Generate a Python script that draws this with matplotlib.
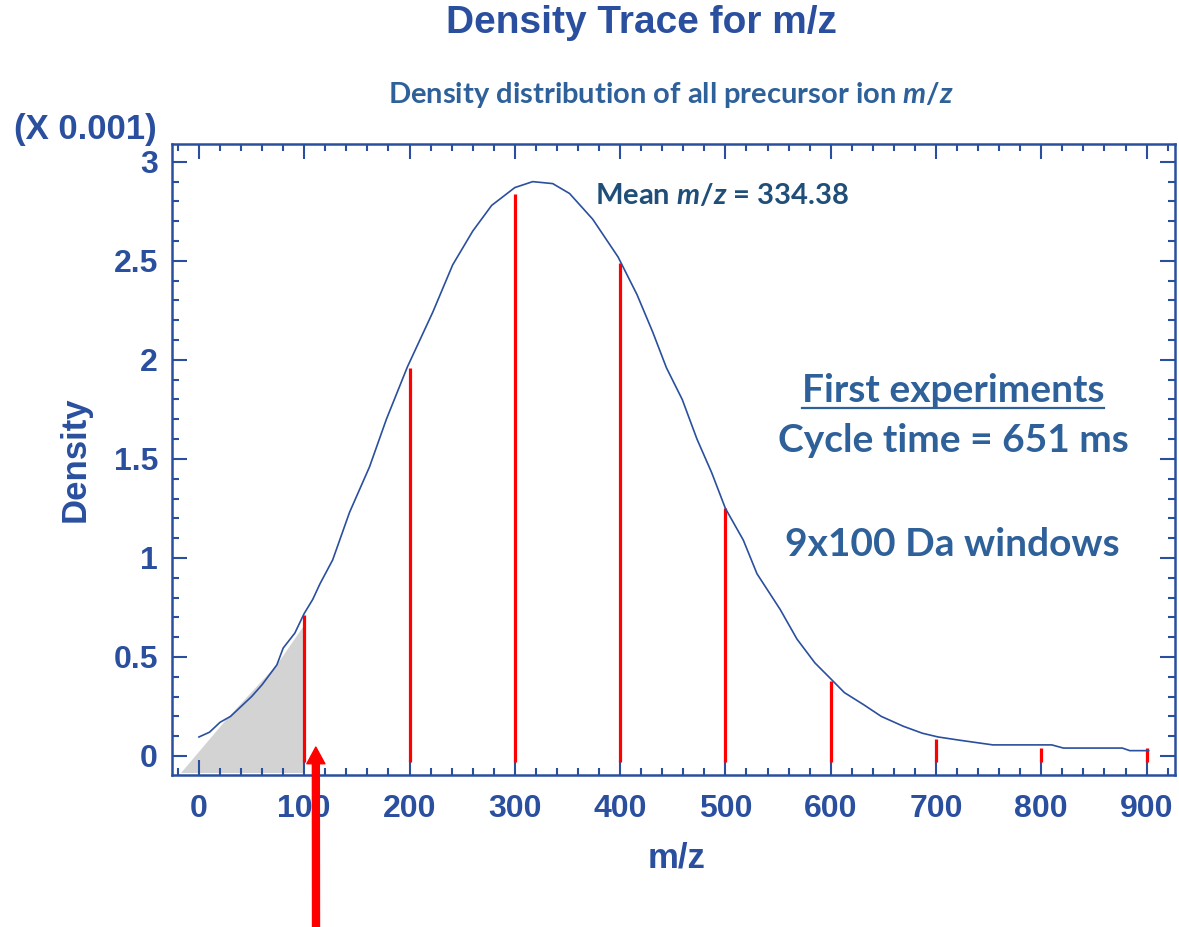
import matplotlib
matplotlib.use("Agg")
import matplotlib.pyplot as plt
from matplotlib.lines import Line2D
from matplotlib.ticker import MultipleLocator

# density trace (units of 0.001)
mz_curve = [0, 10, 20, 30, 40, 50, 60, 74, 80, 91, 100, 108, 115, 127, 143, 162,
            178, 198, 222, 241, 260, 278, 300, 317, 336, 352, 374, 398, 416, 431,
            444, 459, 473, 487, 500, 517, 530, 552, 568, 585, 600, 613, 631, 648,
            669, 687, 702, 722, 754, 810, 821, 877, 884, 902]
density_curve = [0.096, 0.12, 0.17, 0.20, 0.25, 0.30, 0.36, 0.46, 0.545, 0.62, 0.72,
                 0.79, 0.87, 0.99, 1.23, 1.46, 1.70, 1.965, 2.24, 2.48, 2.65, 2.78,
                 2.87, 2.90, 2.89, 2.84, 2.71, 2.52, 2.33, 2.14, 1.96, 1.80, 1.60,
                 1.43, 1.25, 1.09, 0.92, 0.74, 0.59, 0.47, 0.39, 0.32, 0.26, 0.20,
                 0.15, 0.115, 0.096, 0.08, 0.056, 0.056, 0.04, 0.04, 0.027, 0.027]

# red window markers
window_mz = [100, 200, 300, 400, 500, 600, 700, 800, 900]
window_height = [0.71, 1.96, 2.84, 2.49, 1.25, 0.38, 0.086, 0.04, 0.04]

# grey shaded area under the first window
shade_x = [-17, 27, 74, 100, 100]
shade_y = [-0.086, 0.19, 0.46, 0.66, -0.086]

y_ticks = [0, 0.5, 1, 1.5, 2, 2.5, 3]
y_ticklabels = ["0", "0.5", "1", "1.5", "2", "2.5", "3"]

BLUE = "#2a4f9e"
TEXT_BLUE = "#2e6099"
DARK_BLUE = "#1f4e79"
ARIAL = "Liberation Sans"
CALIBRI = "Lato"

plt.rcParams["mathtext.fontset"] = "custom"
plt.rcParams["mathtext.it"] = "Lato:italic:bold"
plt.rcParams["mathtext.rm"] = "Lato:bold"

fig = plt.figure(figsize=(11.79, 9.27), dpi=100)
ax = fig.add_axes([172 / 1179, 1 - 775 / 927, 1003 / 1179, 631 / 927])

ax.fill(shade_x, shade_y, color="#d3d3d3", lw=0, zorder=1)
ax.vlines(window_mz, -0.03, window_height, color="red", lw=2.3, zorder=2)
ax.plot(mz_curve, density_curve, color=BLUE, lw=1.2, zorder=3)

ax.set_xlim(-25.6, 927)
ax.set_ylim(-0.096, 3.09)
ax.xaxis.set_major_locator(MultipleLocator(100))
ax.xaxis.set_minor_locator(MultipleLocator(20))
ax.yaxis.set_minor_locator(MultipleLocator(0.1))
ax.set_yticks(y_ticks)
ax.set_yticklabels(y_ticklabels)

for s in ax.spines.values():
    s.set_color(BLUE)
    s.set_linewidth(1.8)
ax.tick_params(which="both", direction="in", top=True, right=True, color=BLUE,
               width=1.5, labelcolor=BLUE)
ax.tick_params(which="major", length=11)
ax.tick_params(which="minor", length=5)
ax.tick_params(axis="y", which="major", pad=10)
ax.tick_params(axis="x", which="major", pad=14)
for lab in ax.get_xticklabels() + ax.get_yticklabels():
    lab.set_fontfamily(ARIAL)
    lab.set_fontweight("bold")
    lab.set_fontsize(23)

ax.set_xlabel("m/z", fontfamily=ARIAL, fontweight="bold", fontsize=25, color=BLUE)
ax.set_ylabel("Density", fontfamily=ARIAL, fontweight="bold", fontsize=25, color=BLUE)
ax.xaxis.set_label_coords(0.503, -0.105)
ax.yaxis.set_label_coords(-0.08, 0.5)

fig.text(157 / 1179, 1 - 130 / 927, "(X 0.001)", ha="right", va="center",
         fontfamily=ARIAL, fontweight="bold", fontsize=25, color=BLUE)
fig.text(641 / 1179, 1 - 23 / 927, "Density Trace for m/z", ha="center", va="center",
         fontfamily=ARIAL, fontweight="bold", fontsize=28, color=BLUE)
fig.text(671 / 1179, 1 - 95 / 927,
         "Density distribution of all precursor ion $m/z$",
         ha="center", va="center", fontfamily=CALIBRI, fontweight="bold",
         fontsize=21, color=TEXT_BLUE)

fig.text(595 / 1179, 1 - 196 / 927, "Mean $m/z$ = 334.38", ha="left", va="center",
         fontfamily=CALIBRI, fontweight="bold", fontsize=21, color=DARK_BLUE)

first = fig.text(953 / 1179, 1 - 390 / 927, "First experiments", ha="center",
                 va="center", fontfamily=CALIBRI, fontweight="bold", fontsize=28,
                 color=TEXT_BLUE)
fig.text(953 / 1179, 1 - 441 / 927, "Cycle time = 651 ms", ha="center", va="center",
         fontfamily=CALIBRI, fontweight="bold", fontsize=28, color=TEXT_BLUE)
fig.text(952 / 1179, 1 - 545 / 927, "9x100 Da windows", ha="center", va="center",
         fontfamily=CALIBRI, fontweight="bold", fontsize=28, color=TEXT_BLUE)

# underline under "First experiments"
fig.canvas.draw()
bb = first.get_window_extent()
fig.add_artist(Line2D([bb.x0, bb.x1], [927 - 408, 927 - 408], transform=None,
                      color=TEXT_BLUE, lw=1.6))

# big red arrow pointing at the first window
ax.annotate("", xy=(111, 0.045), xytext=(316, 0), textcoords="figure pixels",
            arrowprops=dict(width=5, headwidth=13, headlength=12, color="red",
                            shrink=0), annotation_clip=False)

fig.savefig("out.png", dpi=100)
